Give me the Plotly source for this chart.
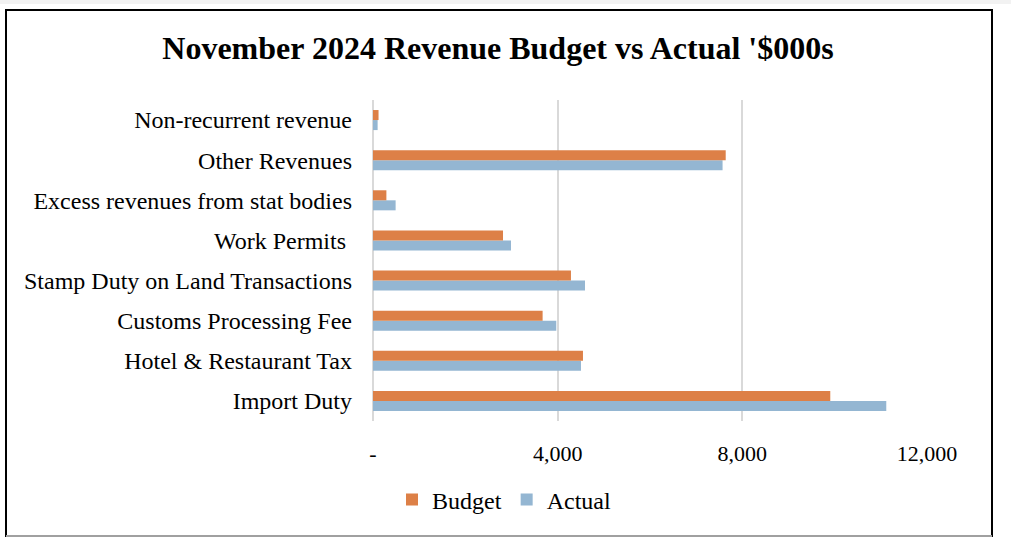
import plotly.graph_objects as go

categories = ["Import Duty", "Hotel & Restaurant Tax", "Customs Processing Fee",
              "Stamp Duty on Land Transactions", "Work Permits\u00a0",
              "Excess revenues from stat bodies", "Other Revenues", "Non-recurrent revenue"]
budget = [9905, 4548, 3674, 4288, 2816, 290, 7640, 120]
actual = [11118, 4505, 3970, 4592, 2989, 490, 7572, 100]
tick_vals = [0, 4000, 8000, 12000]
tick_text = ["-", "4,000", "8,000", "12,000"]

FONT = "Liberation Serif, Times New Roman, serif"

fig = go.Figure()
fig.add_trace(go.Bar(y=categories, x=actual, name="Actual", orientation="h",
                     marker=dict(color="#94B6D2", line=dict(width=0)), legendrank=2))
fig.add_trace(go.Bar(y=categories, x=budget, name="Budget", orientation="h",
                     marker=dict(color="#DD8047", line=dict(width=0)), legendrank=1))

L, R, T, B = 373, 84, 100, 116
W, H = 1011, 537
pw, ph = W - L - R, H - T - B

def px_x(px):
    return (px - L) / pw

def px_y(py):
    return 1 - (py - T) / ph

fig.update_layout(
    width=W, height=H,
    margin=dict(l=L, r=R, t=T, b=B, pad=0),
    paper_bgcolor="white", plot_bgcolor="white",
    barmode="group", bargap=0.5, bargroupgap=0,
    font=dict(family=FONT, size=24, color="black"),
    title=dict(text="<b>November 2024 Revenue Budget vs Actual '$000s</b>",
               x=px_x(498), xanchor="center", xref="paper",
               y=1 - 48 / H, yanchor="middle", yref="container",
               font=dict(family=FONT, size=32, color="black")),
    legend=dict(orientation="h", x=px_x(504), xanchor="center",
                y=px_y(500), yanchor="middle",
                font=dict(family=FONT, size=24, color="black"),
                bgcolor="rgba(0,0,0,0)"),
    showlegend=True,
)
fig.update_xaxes(range=[0, 12000], tickvals=tick_vals, ticktext=tick_text,
                 showgrid=True, gridcolor="#D9D9D9", gridwidth=1.5,
                 zeroline=True, zerolinecolor="#D9D9D9", zerolinewidth=1.5,
                 showline=False, ticks="", ticklabelstandoff=17,
                 tickfont=dict(family=FONT, size=22), fixedrange=True)
fig.update_yaxes(showgrid=False, zeroline=False, showline=False, ticks="",
                 ticklabelstandoff=20, tickfont=dict(family=FONT, size=24),
                 categoryorder="array", categoryarray=categories, fixedrange=True)

# outer frame
fig.add_shape(type="rect", xref="paper", yref="paper",
              x0=px_x(0), x1=px_x(W), y0=px_y(0), y1=px_y(4),
              fillcolor="#F2F2F2", line=dict(width=0), layer="above")
fig.add_shape(type="rect", xref="paper", yref="paper",
              x0=px_x(6), x1=px_x(992), y0=px_y(536), y1=px_y(10),
              line=dict(color="black", width=2), fillcolor="rgba(0,0,0,0)")
fig.add_shape(type="line", xref="paper", yref="paper",
              x0=px_x(6), x1=px_x(992), y0=px_y(536), y1=px_y(536),
              line=dict(color="#A0A0A0", width=2))

fig.write_html("out.html", config={"displayModeBar": False},
               post_script="document.body.style.margin='0';document.body.style.overflow='hidden';")
